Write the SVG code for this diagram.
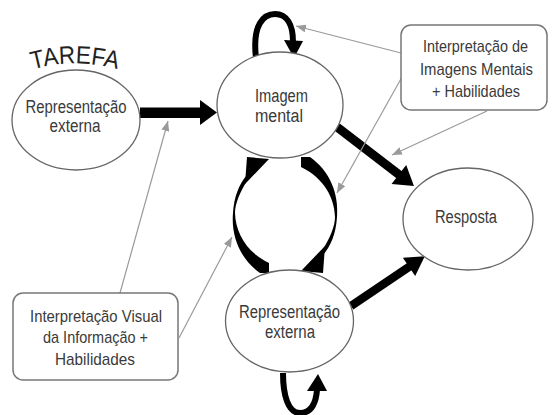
<svg xmlns="http://www.w3.org/2000/svg" width="553" height="415" viewBox="0 0 553 415">
<defs>
<style>
.node ellipse{fill:#fff;stroke:#666;stroke-width:1.3}
.box rect{fill:#fff;stroke:#777;stroke-width:1.5}
text{font-family:"Liberation Sans",Arial,sans-serif;fill:#3a3a3a;font-size:18px;text-anchor:middle}
.box text{font-size:17px}
.tarefa{font-size:25px;fill:#222}
.thin{stroke:#9a9a9a;stroke-width:1.2;fill:none;marker-end:url(#ga)}
.thick{fill:#000}
.loop{fill:none;stroke:#000;stroke-width:6}
</style>
<marker id="ga" viewBox="0 0 10 8" refX="10" refY="4" markerWidth="10" markerHeight="8" markerUnits="userSpaceOnUse" orient="auto">
<path d="M0,0 L10,4 L0,8 z" fill="#9a9a9a"/>
</marker>
<path id="arc" d="M 30,70 Q 75,57 120,70"/>
</defs>
<rect width="553" height="415" fill="#fff"/>

<g id="connectors">
<g class="thick">
<rect x="140" y="107.5" width="62" height="10.5"/>
<polygon points="200,100 217,112.5 200,125"/>
</g>
<g class="thick" transform="translate(337,127) rotate(37.5)">
<rect x="0" y="-4.5" width="80" height="9"/>
<polygon points="78,-12 97,0 78,12"/>
</g>
<g class="thick" transform="translate(351,306) rotate(-34)">
<rect x="0" y="-4.2" width="72" height="8.4"/>
<polygon points="70,-11 89,0 70,11"/>
</g>
<path class="loop" d="M 256,58 C 252,24 264,14 275,14 C 287,14 293,25 293,42"/>
<polygon class="thick" points="284,40 303,41 294,58"/>
<path class="loop" d="M 283,373 C 283,395 288,413 300,413 C 312,413 316,402 317,390"/>
<polygon class="thick" points="307,391 327,391 318,374"/>
<g id="cyc-up" class="thick">
<path d="M 260,273 C 240,259 231,236 233,213 C 234,197 239,184 247,175 L 249,178 C 240,191 235,204 235,213 C 235.5,232 246,252 269,263 L 269,273 Z"/>
<polygon points="247,157 269,159 245,184"/>
</g>
<g id="cyc-down" class="thick" transform="rotate(180 285 215)">
<path d="M 260,273 C 240,259 231,236 233,213 C 234,197 239,184 247,175 L 249,178 C 240,191 235,204 235,213 C 235.5,232 246,252 269,263 L 269,273 Z"/>
<polygon points="247,157 269,159 245,184"/>
</g>
<line class="thin" x1="401" y1="53" x2="296" y2="26"/>
<line class="thin" x1="402" y1="77" x2="337" y2="193"/>
<line class="thin" x1="487" y1="111" x2="392" y2="155"/>
<line class="thin" x1="120" y1="293" x2="168" y2="121"/>
<line class="thin" x1="179" y1="338" x2="232" y2="237"/>
</g>

<g id="tarefa">
<text class="tarefa"><textPath href="#arc" startOffset="50%" textLength="86" lengthAdjust="spacingAndGlyphs">TAREFA</textPath></text>
</g>

<g id="rep-externa-1" class="node">
<ellipse cx="76" cy="120" rx="64" ry="50"/>
<text x="76" y="113" textLength="101" lengthAdjust="spacingAndGlyphs">Representação</text>
<text x="75" y="132" textLength="51" lengthAdjust="spacingAndGlyphs">externa</text>
</g>

<g id="imagem-mental" class="node">
<ellipse cx="280" cy="105" rx="63" ry="53"/>
<text x="281.5" y="102" textLength="53" lengthAdjust="spacingAndGlyphs">Imagem</text>
<text x="279" y="122" textLength="48" lengthAdjust="spacingAndGlyphs">mental</text>
</g>

<g id="rep-externa-2" class="node">
<ellipse cx="289.5" cy="321" rx="64" ry="51"/>
<text x="289.5" y="318" textLength="101" lengthAdjust="spacingAndGlyphs">Representação</text>
<text x="290" y="338" textLength="50" lengthAdjust="spacingAndGlyphs">externa</text>
</g>

<g id="resposta" class="node">
<ellipse cx="468" cy="219" rx="65" ry="51"/>
<text x="466" y="223" textLength="62" lengthAdjust="spacingAndGlyphs">Resposta</text>
</g>

<g id="interp-imagens" class="box">
<rect x="401" y="25" width="146" height="85" rx="10"/>
<text x="475.5" y="52" textLength="105" lengthAdjust="spacingAndGlyphs">Interpretação de</text>
<text x="476.5" y="75" textLength="113" lengthAdjust="spacingAndGlyphs">Imagens Mentais</text>
<text x="476" y="97" textLength="88" lengthAdjust="spacingAndGlyphs">+ Habilidades</text>
</g>

<g id="interp-visual" class="box">
<rect x="13" y="293" width="165" height="87" rx="10"/>
<text x="96" y="322" textLength="132" lengthAdjust="spacingAndGlyphs">Interpretação Visual</text>
<text x="95.5" y="343" textLength="105" lengthAdjust="spacingAndGlyphs">da Informação +</text>
<text x="95" y="365" textLength="80" lengthAdjust="spacingAndGlyphs">Habilidades</text>
</g>
</svg>
